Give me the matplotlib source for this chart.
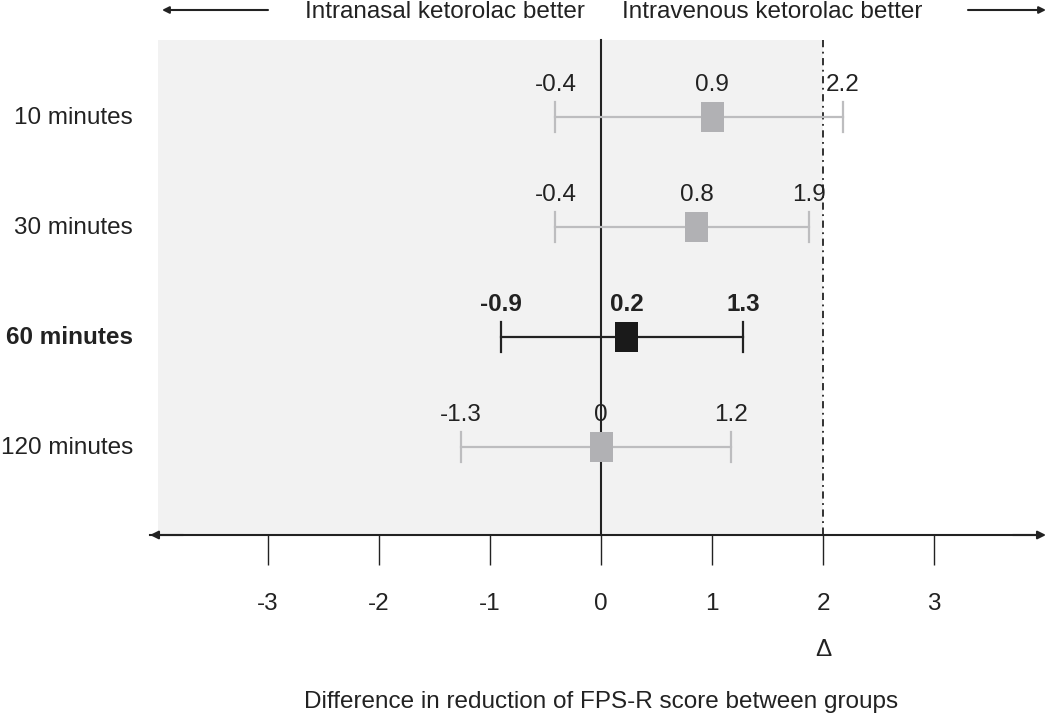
import matplotlib
matplotlib.use("Agg")
import matplotlib.pyplot as plt
from matplotlib.patches import Rectangle

# ---- data ----
rows = ["10 minutes", "30 minutes", "60 minutes", "120 minutes"]
means = [1.0, 0.86, 0.23, 0.0]
lower = [-0.41, -0.41, -0.90, -1.26]
upper = [2.18, 1.87, 1.28, 1.17]
mean_labels = ["0.9", "0.8", "0.2", "0"]
lower_labels = ["-0.4", "-0.4", "-0.9", "-1.3"]
upper_labels = ["2.2", "1.9", "1.3", "1.2"]
highlight = [False, False, True, False]
ticks = [-3, -2, -1, 0, 1, 2, 3]
delta = 2
xlabel = "Difference in reduction of FPS-R score between groups"
left_note = "Intranasal ketorolac better"
right_note = "Intravenous ketorolac better"

plt.rcParams["font.family"] = ["Liberation Sans", "DejaVu Sans"]
FS = 17.5
TXT = "#222222"

fig = plt.figure(figsize=(10.5, 7.15), dpi=100)
ax = fig.add_axes([0, 0, 1, 1])
px = 111.0
ax.set_xlim(-601 / px, (1050 - 601) / px)
rs = 110.0
ax.set_ylim((715 - 117) / rs, -117 / rs)

top = (40 - 117) / rs
axis_y = (535 - 117) / rs
shade_left = (158 - 601) / px

# shaded region
ax.add_patch(Rectangle((shade_left, top), delta - shade_left, axis_y - top,
                       facecolor="#f2f2f2", edgecolor="none", zorder=0))
# reference lines
ax.plot([0, 0], [top, axis_y], color=TXT, lw=1.5, zorder=2)
ax.plot([delta, delta], [top, axis_y], color=TXT, lw=1.3,
        linestyle=(0, (4, 2.5, 1, 2.5)), zorder=2)

# bottom axis using the real spine and ticks
for s in ["top", "right", "left"]:
    ax.spines[s].set_visible(False)
ax.spines["bottom"].set_position(("data", axis_y))
ax.spines["bottom"].set_bounds((150 - 601) / px, (1040 - 601) / px)
ax.spines["bottom"].set_color(TXT)
ax.spines["bottom"].set_linewidth(1.5)
ax.set_xticks(ticks)
ax.set_xticklabels([str(t) for t in ticks])
ax.tick_params(axis="x", direction="out", length=21.6, width=1.0,
               color=TXT, pad=20, labelsize=FS, labelcolor=TXT)
ax.set_yticks([])
ax.patch.set_alpha(0)

# arrow heads on axis ends
xl = (150 - 601) / px
xr = (1046 - 601) / px
ax.annotate("", xy=(xl, axis_y), xytext=(xl + 0.3, axis_y),
            arrowprops=dict(arrowstyle="-|>", color=TXT, lw=1.5,
                            mutation_scale=12, shrinkA=0, shrinkB=0))
ax.annotate("", xy=(xr, axis_y), xytext=(xr - 0.3, axis_y),
            arrowprops=dict(arrowstyle="-|>", color=TXT, lw=1.5,
                            mutation_scale=12, shrinkA=0, shrinkB=0))

# forest rows
mw = 23 / px
mh = 30 / rs
cap = 15 / rs
lab_off = 26 / rs
for i, name in enumerate(rows):
    hl = highlight[i]
    lc = "#222222" if hl else "#bdbdbf"
    mc = "#1a1a1a" if hl else "#b1b1b4"
    fw = "bold" if hl else "normal"
    ax.plot([lower[i], upper[i]], [i, i], color=lc, lw=1.6, zorder=3)
    for e in (lower[i], upper[i]):
        ax.plot([e, e], [i - cap, i + cap], color=lc, lw=1.6, zorder=3)
    ax.add_patch(Rectangle((means[i] - mw / 2, i - mh / 2), mw, mh,
                           facecolor=mc, edgecolor="none", zorder=4))
    for xv, t in ((lower[i], lower_labels[i]), (means[i], mean_labels[i]),
                  (upper[i], upper_labels[i])):
        ax.text(xv, i - lab_off, t, ha="center", va="baseline", fontsize=FS,
                fontweight=fw, color=TXT, zorder=5)
    ax.text((133 - 601) / px, i + 7 / rs, name, ha="right", va="baseline",
            fontsize=FS, fontweight=fw, color=TXT)

# delta and x label
ax.text(delta, (656 - 117) / rs, "Δ", ha="center", va="baseline", fontsize=FS,
        color=TXT)
ax.text(0, (708 - 117) / rs, xlabel, ha="center", va="baseline", fontsize=FS,
        color=TXT)

# top notes with arrows
ny = (18 - 117) / rs
ax.text((585 - 601) / px, ny, left_note, ha="right", va="baseline",
        fontsize=FS, color=TXT)
ax.text((622 - 601) / px, ny, right_note, ha="left", va="baseline",
        fontsize=FS, color=TXT)
ay = (10 - 117) / rs
ax.annotate("", xy=((162 - 601) / px, ay), xytext=((268 - 601) / px, ay),
            arrowprops=dict(arrowstyle="-|>", color=TXT, lw=1.5,
                            mutation_scale=10, shrinkA=0, shrinkB=0))
ax.annotate("", xy=((1046 - 601) / px, ay), xytext=((968 - 601) / px, ay),
            arrowprops=dict(arrowstyle="-|>", color=TXT, lw=1.5,
                            mutation_scale=10, shrinkA=0, shrinkB=0))

fig.savefig("out.png", dpi=100)
